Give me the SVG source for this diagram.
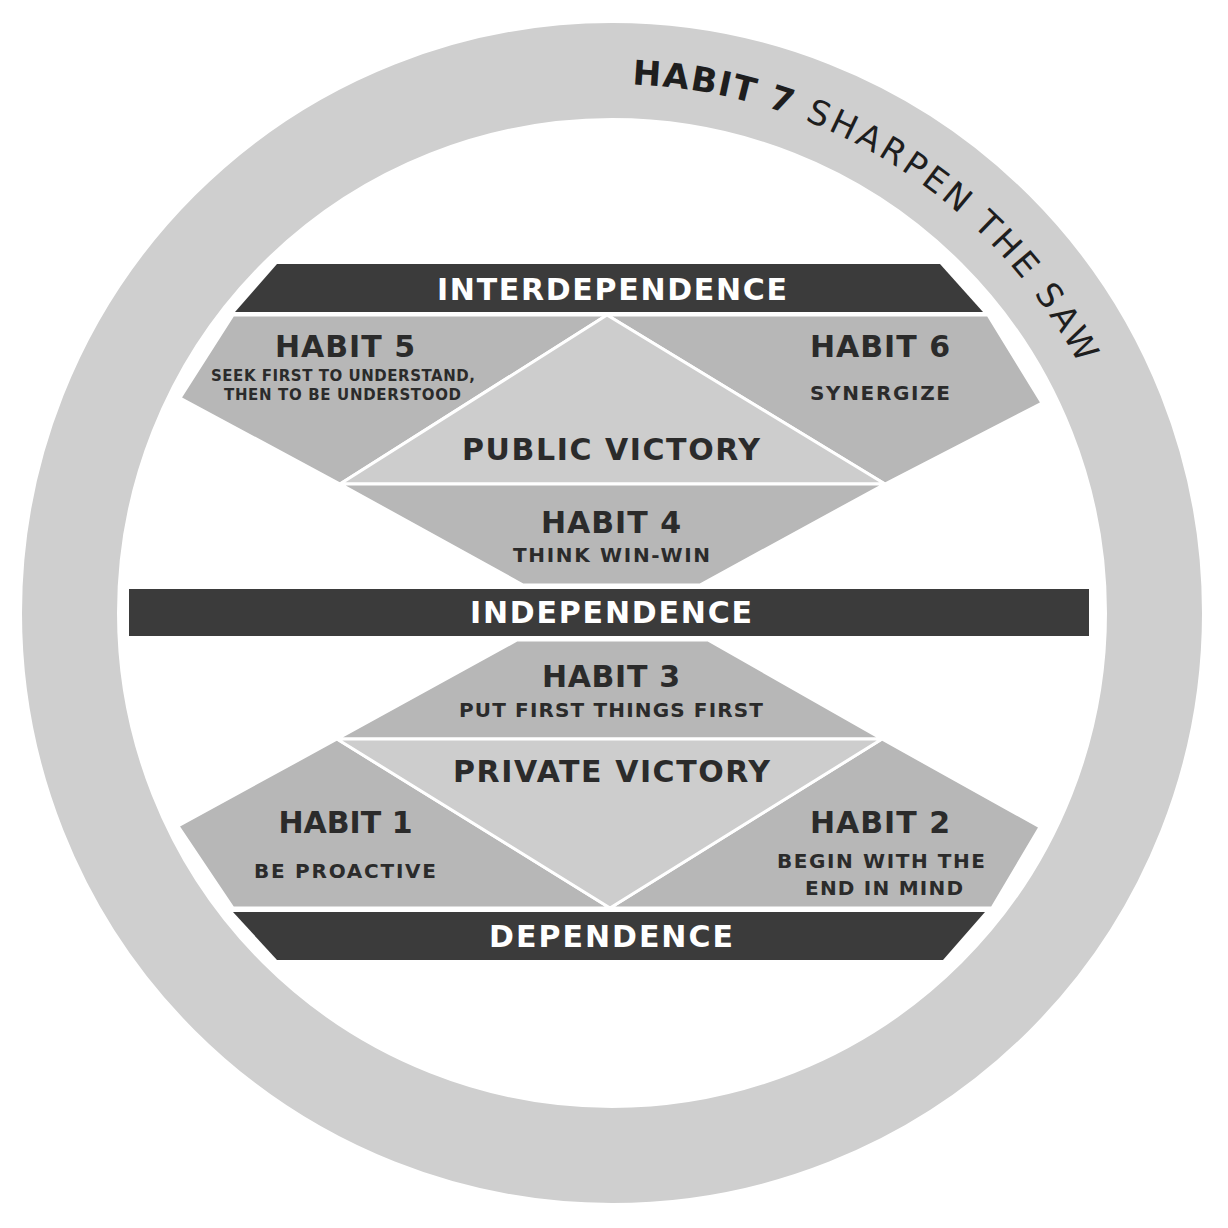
<svg xmlns="http://www.w3.org/2000/svg" xmlns:xlink="http://www.w3.org/1999/xlink" width="1228" height="1228" viewBox="0 0 1228 1228">
  <style>
    .habit { fill: #b7b7b7; stroke: #ffffff; stroke-width: 3; stroke-linejoin: round; }
    .victory { fill: #cdcdcd; stroke: #ffffff; stroke-width: 3; stroke-linejoin: round; }
    .band { fill: #3b3b3b; }
    text { font-family: "DejaVu Sans", "Liberation Sans", sans-serif; font-weight: bold; text-anchor: middle; }
    .bandtxt { fill: #ffffff; font-size: 30px; }
    .title { fill: #2b2b2b; font-size: 30px; }
    .sub { fill: #2b2b2b; font-size: 20px; }
    .small { fill: #2b2b2b; font-size: 15px; }
    .ringtxt { fill: #1e1e1e; font-size: 34px; text-anchor: start; }
    .ringbold { font-weight: bold; letter-spacing: 1.5px; }
    .ringreg { font-weight: normal; letter-spacing: 3.4px; }
  </style>
  <defs>
    <path id="arc" d="M 612 84 A 529 529 0 0 1 1070.1 877.5" fill="none"/>
  </defs>
  <rect width="1228" height="1228" fill="#ffffff"/>

  <g id="habit7">
    <circle cx="612" cy="613" r="542.5" fill="none" stroke="#cfcfcf" stroke-width="95"/>
    <text class="ringtxt ringbold"><textPath xlink:href="#arc" href="#arc" startOffset="20">HABIT 7</textPath></text>
    <text class="ringtxt ringreg"><textPath xlink:href="#arc" href="#arc" startOffset="197">SHARPEN</textPath></text>
    <text class="ringtxt ringreg"><textPath xlink:href="#arc" href="#arc" startOffset="396">THE</textPath></text>
    <text class="ringtxt ringreg"><textPath xlink:href="#arc" href="#arc" startOffset="488">SAW</textPath></text>
  </g>

  <g id="interdependence">
    <polygon class="band" points="277,264 940,264 983,312 235,312"/>
    <text class="bandtxt" x="612" y="300" textLength="350" lengthAdjust="spacing">INTERDEPENDENCE</text>
  </g>

  <g id="habit5">
    <polygon class="habit" points="233,315 607,315 340,484 180,398"/>
    <text class="title" x="345" y="357" textLength="140" lengthAdjust="spacing">HABIT 5</text>
    <text class="small" x="343" y="381" textLength="264" lengthAdjust="spacing">SEEK FIRST TO UNDERSTAND,</text>
    <text class="small" x="342.5" y="400" textLength="237" lengthAdjust="spacing">THEN TO BE UNDERSTOOD</text>
  </g>

  <g id="habit6">
    <polygon class="habit" points="607,315 988,315 1042,403 885,484"/>
    <text class="title" x="880" y="357" textLength="140" lengthAdjust="spacing">HABIT 6</text>
    <text class="sub" x="880" y="400" textLength="140" lengthAdjust="spacing">SYNERGIZE</text>
  </g>

  <g id="public-victory">
    <polygon class="victory" points="607,315 885,484 340,484"/>
    <text class="title" x="611" y="460" textLength="298" lengthAdjust="spacing">PUBLIC VICTORY</text>
  </g>

  <g id="habit4">
    <polygon class="habit" points="340,484 885,484 700,585 523,585"/>
    <text class="title" x="611" y="533" textLength="140" lengthAdjust="spacing">HABIT 4</text>
    <text class="sub" x="611.5" y="562" textLength="197" lengthAdjust="spacing">THINK WIN-WIN</text>
  </g>

  <g id="independence">
    <rect class="band" x="129" y="589" width="960" height="47"/>
    <text class="bandtxt" x="611" y="623" textLength="282" lengthAdjust="spacing">INDEPENDENCE</text>
  </g>

  <g id="habit3">
    <polygon class="habit" points="517,640 708,640 882,739 337,739"/>
    <text class="title" x="611" y="687" textLength="138" lengthAdjust="spacing">HABIT 3</text>
    <text class="sub" x="611" y="717" textLength="304" lengthAdjust="spacing">PUT FIRST THINGS FIRST</text>
  </g>

  <g id="habit1">
    <polygon class="habit" points="337,739 610,908 233,908 178,826"/>
    <text class="title" x="345.5" y="833" textLength="134" lengthAdjust="spacing">HABIT 1</text>
    <text class="sub" x="345" y="878" textLength="182" lengthAdjust="spacing">BE PROACTIVE</text>
  </g>

  <g id="habit2">
    <polygon class="habit" points="882,739 1040,827 992,908 610,908"/>
    <text class="title" x="880" y="833" textLength="140" lengthAdjust="spacing">HABIT 2</text>
    <text class="sub" x="881" y="868" textLength="208" lengthAdjust="spacing">BEGIN WITH THE</text>
    <text class="sub" x="884" y="895" textLength="158" lengthAdjust="spacing">END IN MIND</text>
  </g>

  <g id="private-victory">
    <polygon class="victory" points="337,739 882,739 610,908"/>
    <text class="title" x="611.5" y="782" textLength="317" lengthAdjust="spacing">PRIVATE VICTORY</text>
  </g>

  <g id="dependence">
    <polygon class="band" points="233,912 985,912 943,960 277,960"/>
    <text class="bandtxt" x="611" y="947" textLength="244" lengthAdjust="spacing">DEPENDENCE</text>
  </g>
</svg>
